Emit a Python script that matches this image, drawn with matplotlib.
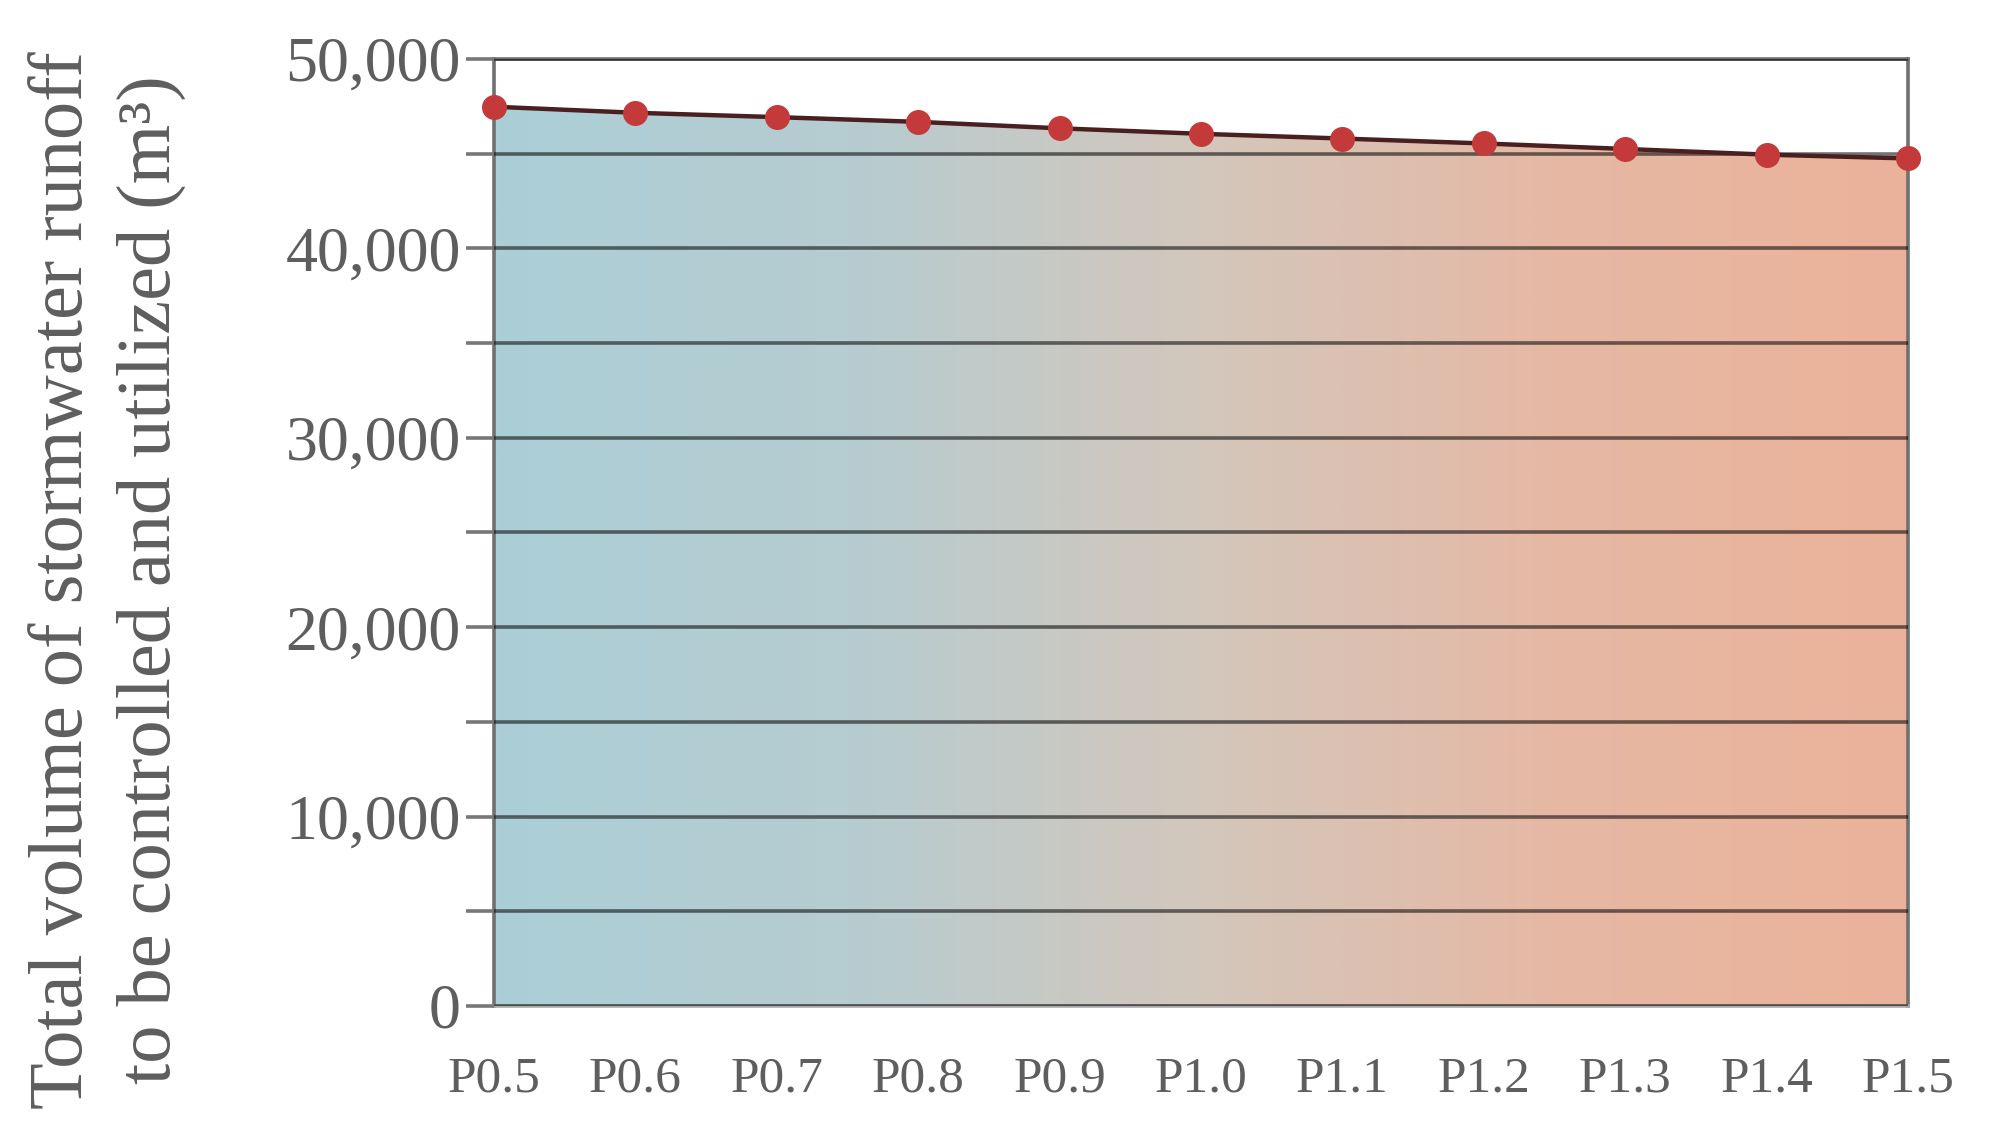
import numpy as np
import matplotlib
matplotlib.use("Agg")
import matplotlib.pyplot as plt
from matplotlib.colors import LinearSegmentedColormap
from matplotlib.ticker import MultipleLocator, FuncFormatter

# datos
categorias = ["P0.5", "P0.6", "P0.7", "P0.8", "P0.9", "P1.0",
              "P1.1", "P1.2", "P1.3", "P1.4", "P1.5"]
volumen = [47480, 47160, 46930, 46680, 46340, 46050,
           45800, 45540, 45250, 44950, 44750]
y_ticks = [0, 10000, 20000, 30000, 40000, 50000]

texto_gris = "#5e5e5e"
plt.rcParams['font.family'] = ['Liberation Serif', 'DejaVu Serif']

fig = plt.figure(figsize=(19.97, 11.39), dpi=100)
ax = fig.add_axes([0.2474, 0.1168, 0.9554 - 0.2474, 0.9482 - 0.1168])

x = np.arange(len(categorias))
y = np.array(volumen)

# relleno con degradado horizontal (azul -> salmón)
cmap = LinearSegmentedColormap.from_list(
    "grad", ["#abcfd7", "#b6ccd0", "#d3c7bc", "#e6b8a4", "#ebb29a"])
grad = np.linspace(0, 1, 512).reshape(1, -1)
area = ax.fill_between(x, 0, y, color="none", lw=0)
img = ax.imshow(grad, cmap=cmap, aspect="auto",
                extent=[x[0], x[-1], 0, 50000], origin="lower", zorder=1)
img.set_clip_path(area.get_paths()[0], transform=ax.transData)

ax.plot(x, y, color="#4a1f1f", lw=3.2, zorder=3)
ax.plot(x, y, "o", color="#c43a3a", markersize=17, zorder=4, clip_on=False)

ax.set_xlim(x[0], x[-1])
ax.set_ylim(0, 50000)
ax.set_xticks(x)
ax.set_xticklabels(categorias)
ax.set_yticks(y_ticks)
ax.yaxis.set_minor_locator(MultipleLocator(5000))
ax.yaxis.set_major_formatter(FuncFormatter(lambda v, p: f"{int(v):,}"))

ax.set_axisbelow(False)
ax.grid(True, axis="y", which="both", color="black", alpha=0.55, lw=2.6)
ax.tick_params(axis="y", which="both", direction="out", length=20, width=2.6,
               color="#777777", labelsize=46, labelcolor=texto_gris, pad=4)
ax.tick_params(axis="x", length=0, labelsize=37, labelcolor=texto_gris, pad=36)

for lado in ["left", "right", "top"]:
    ax.spines[lado].set_color("#6f7070")
    ax.spines[lado].set_linewidth(2.6)
ax.spines["bottom"].set_color("#aaaaaa")
ax.spines["bottom"].set_linewidth(2.6)

fig.text(0.054, 0.491,
         "Total volume of stormwater runoff\nto be controlled and utilized (m³)",
         rotation=90, ha="center", va="center", multialignment="center",
         fontsize=55, color=texto_gris, linespacing=1.35)

fig.savefig("out.png", dpi=100)
